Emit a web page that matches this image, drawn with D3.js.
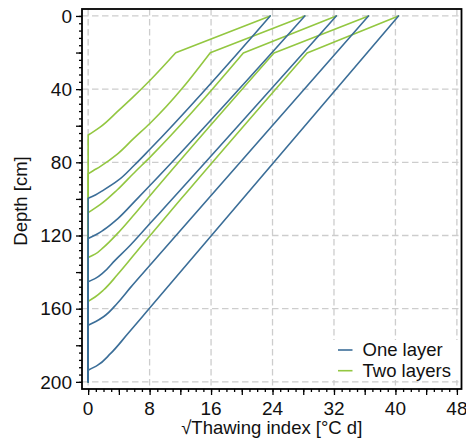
<!DOCTYPE html>
<html>
<head>
<meta charset="utf-8">
<script src="https://cdn.jsdelivr.net/npm/d3@7"></script>
<style>
  html, body { margin: 0; padding: 0; background: #fff; }
  text { font-family: "Liberation Sans", Arial, sans-serif; fill: #111; }
</style>
</head>
<body>
<svg id="chart" width="466" height="441"></svg>
<script>
// Thaw-depth curves: [√thawing index, depth in cm], listed from the surface downwards
const oneLayer = [
  [[23.7, 0], [8.1, 72.6], [6.0, 81.6], [3.8, 90.2], [2.0, 95.2], [1.0, 97.7], [0, 99.7], [0, 200]],
  [[28.2, 0], [8.1, 92.4], [6.0, 101.6], [3.8, 111], [2.0, 117], [1.0, 119.6], [0, 121.6], [0, 200]],
  [[32.3, 0], [8.1, 113.2], [5.1, 127], [3.5, 133.6], [2.0, 140.2], [1.0, 143.3], [0, 145.3], [0, 200]],
  [[36.5, 0], [8.1, 136], [5.5, 148.5], [3.8, 157], [2.0, 164.4], [1.0, 167], [0, 169], [0, 200]],
  [[40.4, 0], [7.9, 160.2], [5.1, 174], [2.9, 184.6], [1.2, 191], [0, 193.6], [0, 200]]
];
const twoLayers = [
  [[23.7, 0], [11.4, 20.1], [8.1, 35], [5.8, 44.5], [3.8, 52.3], [1.6, 60.6], [0.7, 63.2], [0, 65.1], [0, 200]],
  [[28.2, 0], [15.9, 20.1], [8.1, 58.5], [5.8, 67.5], [3.8, 75.5], [1.6, 82.2], [0.7, 84.5], [0, 86.3], [0, 200]],
  [[32.3, 0], [20.2, 20.3], [8.1, 77], [5.8, 86.5], [3.8, 95], [1.6, 103], [0.7, 105.6], [0, 107.5], [0, 200]],
  [[36.5, 0], [24.2, 20.2], [8.1, 98], [5.8, 109.5], [3.8, 119], [2.0, 126.5], [0.9, 130.2], [0, 132], [0, 200]],
  [[40.4, 0], [28.5, 20.2], [12.5, 98], [7.0, 125.3], [3.8, 141.5], [2.0, 149.8], [0.9, 153.6], [0, 156], [0, 200]]
];
const seriesNames = ["One layer", "Two layers"];
const xTickLabels = [0, 8, 16, 24, 32, 40, 48];
const yTickLabels = [0, 40, 80, 120, 160, 200];
const xTitle = "\u221AThawing index [\u00B0C d]";
const yTitle = "Depth [cm]";

const colors = { one: "#3b6e98", two: "#93c741" };

const svg = d3.select("#chart");
const plotLeft = 82, plotRight = 461.5, plotTop = 9, plotBottom = 389;

const x = d3.scaleLinear().domain([-0.8, 48.6]).range([plotLeft, plotRight]);
const y = d3.scaleLinear().domain([-3.8, 203.9]).range([plotTop, plotBottom]);

// dashed grid
const grid = svg.append("g").attr("stroke", "#cdcdcd").attr("stroke-width", 1.3)
  .attr("stroke-dasharray", "6.5,3.5").attr("fill", "none");
grid.selectAll("line.v").data(xTickLabels).join("line").attr("class", "v")
  .attr("x1", d => x(d)).attr("x2", d => x(d)).attr("y1", plotTop).attr("y2", plotBottom);
grid.selectAll("line.h").data(yTickLabels).join("line").attr("class", "h")
  .attr("y1", d => y(d)).attr("y2", d => y(d)).attr("x1", plotLeft).attr("x2", plotRight);

// each profile: straight surface layer (two-layer case), a smooth run down to x = 0,
// then the vertical run down the left edge
const straight = d3.line().x(d => x(d[0])).y(d => y(d[1]));
const smooth = d3.line().x(d => x(d[0])).y(d => y(d[1])).curve(d3.curveMonotoneY);
function profilePath(pts) {
  let runStart = 0;
  pts.forEach((p, i) => { if (p[1] <= 21) runStart = i; });
  const runEnd = pts.findIndex(p => p[0] === 0);
  return (runStart > 0 ? straight(pts.slice(0, runStart + 1)) : "") +
         smooth(pts.slice(runStart, runEnd + 1)) +
         straight(pts.slice(runEnd));
}

// two-layer case underneath, one-layer on top
svg.append("g").selectAll("path").data(twoLayers).join("path")
  .attr("d", profilePath).attr("fill", "none").attr("stroke", colors.two)
  .attr("stroke-width", 1.6).attr("stroke-linejoin", "round").attr("stroke-linecap", "round");
svg.append("g").selectAll("path").data(oneLayer).join("path")
  .attr("d", profilePath).attr("fill", "none").attr("stroke", colors.one)
  .attr("stroke-width", 1.6).attr("stroke-linejoin", "round").attr("stroke-linecap", "round");

// legend
const lg = svg.append("g");
lg.append("rect").attr("x", 330).attr("y", 340).attr("width", 129).attr("height", 40).attr("fill", "#fff");
seriesNames.forEach((name, i) => {
  const cy = 350 + i * 20.7;
  lg.append("line").attr("x1", 338).attr("x2", 352.5).attr("y1", cy).attr("y2", cy)
    .attr("stroke", i === 0 ? colors.one : colors.two).attr("stroke-width", 1.6);
  lg.append("text").attr("x", 362.5).attr("y", cy + 6).attr("font-size", 18.5).text(name);
});

// axes with outward major and minor ticks
const xAxis = svg.append("g").attr("transform", `translate(0,${plotBottom})`);
xAxis.call(d3.axisBottom(x).tickValues(d3.range(0, 48.01, 1)).tickSize(3).tickFormat(""));
xAxis.append("g").call(d3.axisBottom(x).tickValues(d3.range(0, 48.01, 4)).tickSize(6).tickFormat(""));
xAxis.selectAll(".domain").remove();
xAxis.selectAll("line").attr("stroke", "#000").attr("stroke-width", 1.3);
svg.append("g").selectAll("text").data(xTickLabels).join("text")
  .attr("x", d => x(d)).attr("y", 415).attr("text-anchor", "middle").attr("font-size", 19).text(d => d);

const yAxis = svg.append("g").attr("transform", `translate(${plotLeft},0)`);
yAxis.call(d3.axisLeft(y).tickValues(d3.range(0, 200.01, 4)).tickSize(3).tickFormat(""));
yAxis.append("g").call(d3.axisLeft(y).tickValues(d3.range(0, 200.01, 20)).tickSize(6).tickFormat(""));
yAxis.selectAll(".domain").remove();
yAxis.selectAll("line").attr("stroke", "#000").attr("stroke-width", 1.3);
svg.append("g").selectAll("text").data(yTickLabels).join("text")
  .attr("x", 72).attr("y", d => y(d)).attr("dy", "0.35em").attr("text-anchor", "end")
  .attr("font-size", 19).text(d => d);

// frame
svg.append("rect").attr("x", plotLeft).attr("y", plotTop)
  .attr("width", plotRight - plotLeft).attr("height", plotBottom - plotTop)
  .attr("fill", "none").attr("stroke", "#000").attr("stroke-width", 1.8);

// axis titles
svg.append("text").attr("x", (plotLeft + plotRight) / 2).attr("y", 434).attr("text-anchor", "middle")
  .attr("font-size", 18.5).text(xTitle);
svg.append("text").attr("transform", "translate(27,201) rotate(-90)").attr("text-anchor", "middle")
  .attr("font-size", 18.5).text(yTitle);
</script>
</body>
</html>
